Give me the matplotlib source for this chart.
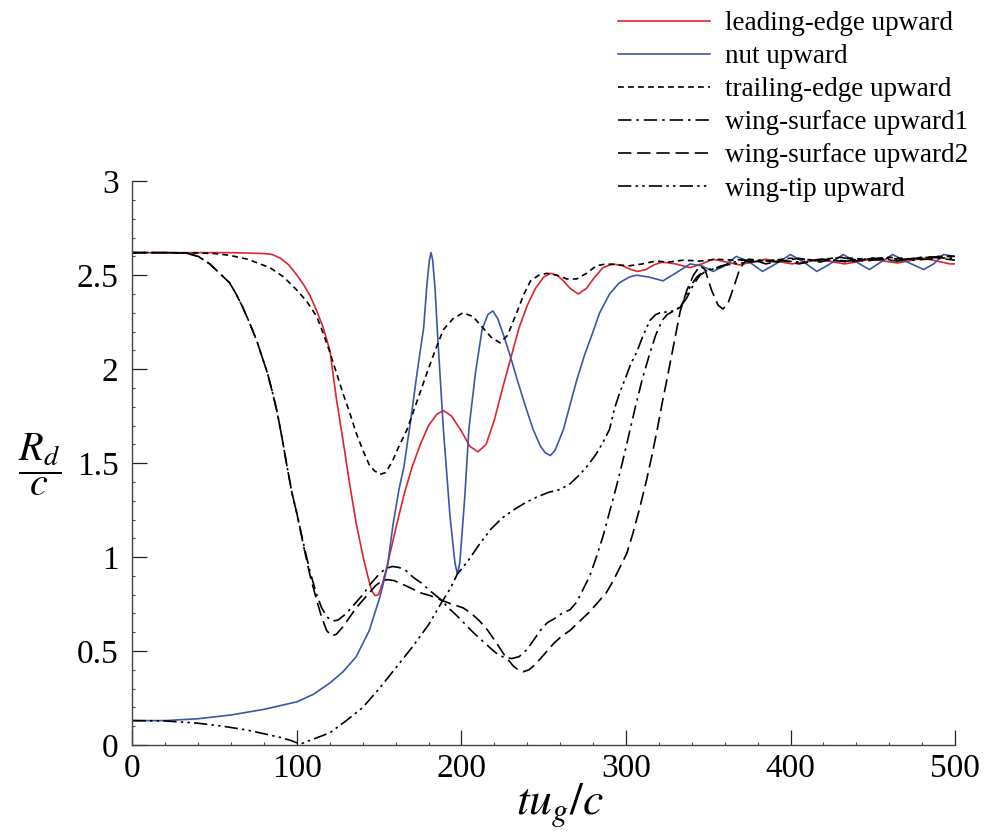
import matplotlib
matplotlib.use("Agg")
import matplotlib.pyplot as plt
from matplotlib.ticker import MultipleLocator

plt.rcParams['font.family'] = ['Liberation Serif', 'DejaVu Serif']
plt.rcParams['mathtext.fontset'] = 'stix'

labels = ["leading-edge upward", "nut upward", "trailing-edge upward",
          "wing-surface upward1", "wing-surface upward2", "wing-tip upward"]

le_x = [0, 20, 40, 60, 70, 80, 85, 90, 95, 100, 104, 108, 112, 116, 120, 124, 128, 132, 136, 140, 143, 145.5, 147.5,
        149.5, 152, 155, 160, 165, 170, 175, 180, 185, 189, 194, 200, 205, 210, 215, 220, 225, 230, 235, 240, 245,
        250, 254, 258, 262, 266, 271, 276, 281, 286, 292, 298, 303, 307, 312, 317, 322, 330, 339, 346, 353,
        361, 369, 377, 385, 393, 401, 409, 417, 425, 433, 441, 449, 457, 465, 473, 481, 489, 497, 500]
le_y = [2.62, 2.62, 2.62, 2.62, 2.618, 2.615, 2.61, 2.59, 2.555, 2.50, 2.45, 2.39, 2.31, 2.22, 2.10, 1.84, 1.62, 1.39, 1.18, 1.01, 0.90, 0.82, 0.795,
        0.80, 0.86, 0.96, 1.15, 1.33, 1.48, 1.60, 1.70, 1.76, 1.78, 1.75, 1.67, 1.59, 1.56, 1.60, 1.73, 1.90, 2.06, 2.22, 2.34, 2.43,
        2.49, 2.51, 2.50, 2.47, 2.43, 2.40, 2.43, 2.49, 2.54, 2.56, 2.55, 2.53, 2.52, 2.53, 2.555, 2.57, 2.56, 2.54, 2.56, 2.585,
        2.57, 2.555, 2.57, 2.585, 2.572, 2.56, 2.572, 2.585, 2.572, 2.56, 2.572, 2.585, 2.575, 2.565, 2.578, 2.59, 2.575, 2.56, 2.56]

nut_x = [0, 20, 40, 60, 80, 100, 110, 120, 128, 136, 144, 150.5, 155, 158.5, 162, 165, 169, 173, 177, 179, 180.5, 181.5,
         182.5, 184, 185.5, 189, 193, 196, 197.5, 199, 202, 204.5, 208.5, 212.5, 216, 219, 222, 226, 230, 234, 239, 243.5, 248, 251, 254,
         257, 262, 266, 270, 275, 280, 284, 290, 296, 302, 306.5, 314, 322.5, 330, 339, 346, 353, 360, 367, 375, 383,
         391, 400, 408, 416, 424, 432, 440, 448, 455, 462, 471, 481, 487, 493, 500]
nut_y = [0.13, 0.13, 0.14, 0.16, 0.19, 0.23, 0.27, 0.33, 0.39, 0.47, 0.61, 0.79, 0.95, 1.18, 1.36, 1.48, 1.72, 1.98, 2.22, 2.45, 2.58, 2.62,
         2.58, 2.42, 2.18, 1.68, 1.22, 0.97, 0.91, 0.97, 1.32, 1.68, 1.98, 2.21, 2.29, 2.31, 2.27, 2.17, 2.06, 1.94, 1.80, 1.68, 1.59, 1.555, 1.54,
         1.57, 1.68, 1.81, 1.94, 2.08, 2.20, 2.30, 2.40, 2.46, 2.49, 2.50, 2.49, 2.47, 2.51, 2.56, 2.55, 2.52, 2.55, 2.60, 2.57, 2.52,
         2.56, 2.61, 2.57, 2.52, 2.56, 2.61, 2.57, 2.53, 2.57, 2.61, 2.57, 2.53, 2.56, 2.61, 2.60]

te_x = [0, 20, 40, 50, 59, 70, 83.6, 92, 100, 106, 112, 116, 120, 124, 128, 132, 136, 140, 144, 147, 150.5, 154, 158,
        162, 167, 173, 179, 184, 189, 195, 201, 207, 213, 218, 223.5, 228, 234, 238, 242, 247, 252, 258, 264, 270, 276,
        282, 288, 295, 302, 310, 318, 326, 335, 345, 355, 365, 375, 385, 400, 415, 430, 445, 460, 475, 490, 500]
te_y = [2.62, 2.62, 2.618, 2.615, 2.606, 2.585, 2.54, 2.49, 2.42, 2.36, 2.28, 2.19, 2.09, 1.98, 1.87, 1.77, 1.66, 1.57, 1.49, 1.46, 1.44, 1.45, 1.51,
        1.59, 1.68, 1.83, 1.98, 2.10, 2.21, 2.27, 2.30, 2.28, 2.22, 2.17, 2.14, 2.18, 2.31, 2.40, 2.47, 2.50, 2.51, 2.50, 2.48, 2.48, 2.51,
        2.55, 2.56, 2.555, 2.55, 2.56, 2.575, 2.57, 2.58, 2.575, 2.585, 2.58, 2.585, 2.575, 2.59, 2.58, 2.595, 2.585, 2.595, 2.585, 2.60, 2.60]

ws1_x = [0, 20, 33, 40, 47, 53, 59, 63, 67, 71, 75.6, 79, 82, 85, 88, 91, 94, 97, 100, 104, 108, 112, 115, 118, 120, 122,
         125, 130, 135, 140, 145, 150, 154, 158, 162, 166, 171, 176, 181, 188, 192, 197, 202, 207, 212, 217, 221, 225, 230.5,
         235, 240, 244, 248, 252, 256, 261, 266, 270, 274, 278, 282, 286, 290, 294, 298, 302, 306, 310, 314, 318, 322, 325,
         329, 333, 337, 341, 345, 350, 356, 362, 370, 380, 392, 405, 418, 430, 445, 460, 475, 490, 500]
ws1_y = [2.62, 2.62, 2.617, 2.60, 2.56, 2.51, 2.46, 2.40, 2.33, 2.25, 2.15, 2.06, 1.98, 1.88, 1.77, 1.63, 1.48, 1.34, 1.23, 1.07, 0.92, 0.80, 0.73, 0.685, 0.668, 0.66,
         0.665, 0.70, 0.75, 0.80, 0.86, 0.91, 0.94, 0.95, 0.945, 0.93, 0.89, 0.86, 0.82, 0.77, 0.73, 0.69, 0.645, 0.60, 0.56, 0.52, 0.49, 0.47, 0.46,
         0.47, 0.51, 0.56, 0.61, 0.65, 0.67, 0.70, 0.72, 0.76, 0.83, 0.90, 1.00, 1.11, 1.24, 1.37, 1.51, 1.66, 1.81, 1.95, 2.07, 2.18, 2.26, 2.29,
         2.31, 2.33, 2.38, 2.45, 2.50, 2.53, 2.54, 2.56, 2.58, 2.58, 2.57, 2.59, 2.57, 2.595, 2.575, 2.59, 2.58, 2.59, 2.58]

ws2_x = [0, 20, 33, 40, 47, 53, 59, 63, 67, 71, 75.6, 79, 82, 85, 88, 91, 94, 97, 100, 104, 108, 112, 115, 118, 121, 124,
         128, 132, 136, 140, 144, 148, 152, 155, 159, 163, 168, 175, 181, 188, 194, 201, 206, 211, 216, 221.5, 226, 231.5,
         234.5, 237.5, 241, 245, 250, 256, 261, 266, 272, 278, 283, 288, 292, 296, 300.5, 304, 308, 312.5, 316, 319, 322,
         325, 329, 333, 337, 341, 345, 348, 352, 356, 359, 362, 366, 369, 372, 378, 385, 395, 405, 420, 435, 450, 465, 480, 495, 500]
ws2_y = [2.62, 2.62, 2.617, 2.60, 2.56, 2.51, 2.46, 2.40, 2.33, 2.25, 2.15, 2.06, 1.98, 1.88, 1.77, 1.63, 1.48, 1.34, 1.23, 1.06, 0.90, 0.77, 0.68, 0.61, 0.58, 0.59,
         0.63, 0.68, 0.73, 0.77, 0.81, 0.85, 0.875, 0.88, 0.875, 0.86, 0.84, 0.81, 0.795, 0.77, 0.75, 0.73, 0.70, 0.66, 0.61, 0.54, 0.48, 0.42,
         0.40, 0.39, 0.40, 0.43, 0.48, 0.54, 0.58, 0.61, 0.66, 0.71, 0.76, 0.81, 0.87, 0.94, 1.02, 1.12, 1.25, 1.41, 1.55, 1.68, 1.82,
         1.95, 2.13, 2.31, 2.42, 2.50, 2.55, 2.53, 2.42, 2.34, 2.32, 2.35, 2.45, 2.53, 2.57, 2.58, 2.56, 2.58, 2.56, 2.585, 2.57, 2.59, 2.575, 2.595, 2.60, 2.60]

wt_x = [0, 20, 39, 55, 69.6, 80, 90, 96, 102, 108, 114, 120, 130, 140, 150, 160, 170, 180, 188, 193, 197.5, 204, 211, 218,
        225, 231.5, 239, 246, 253, 260, 266, 272, 277, 282, 286, 290, 293, 296, 300, 303, 306.5, 310, 314.6, 318, 320.7,
        325, 329, 333, 336, 339, 343, 347, 352, 358, 365, 375, 390, 405, 420, 435, 450, 465, 480, 500]
wt_y = [0.13, 0.128, 0.117, 0.10, 0.08, 0.06, 0.04, 0.025, 0.005, 0.025, 0.045, 0.065, 0.13, 0.20, 0.30, 0.41, 0.52, 0.64, 0.76, 0.83, 0.91, 0.98, 1.07, 1.15,
        1.21, 1.25, 1.29, 1.32, 1.345, 1.36, 1.39, 1.44, 1.49, 1.55, 1.61, 1.68, 1.79, 1.87, 1.96, 2.03, 2.09, 2.17, 2.26, 2.29, 2.30,
        2.305, 2.31, 2.33, 2.38, 2.44, 2.49, 2.52, 2.53, 2.55, 2.56, 2.57, 2.58, 2.57, 2.585, 2.575, 2.59, 2.58, 2.595, 2.59]

xticks = [0, 100, 200, 300, 400, 500]
yticks = [0, 0.5, 1, 1.5, 2, 2.5, 3]
ytick_labels = ["0", "0.5", "1", "1.5", "2", "2.5", "3"]

fig = plt.figure(figsize=(9.87, 8.39), dpi=100)
ax = fig.add_axes([0.1342, 0.112, 0.8334, 0.672])

lw = 1.2
ax.plot(le_x, le_y, color='#e0242c', lw=lw, label=labels[0])
ax.plot(nut_x, nut_y, color='#3a56a8', lw=lw, label=labels[1])
ax.plot(te_x, te_y, color='black', lw=lw, dashes=(3.5, 2.5), label=labels[2])
ax.plot(ws1_x, ws1_y, color='black', lw=lw, dashes=(8, 3, 1.5, 3), label=labels[3])
ax.plot(ws2_x, ws2_y, color='black', lw=lw, dashes=(8, 3.5), label=labels[4])
ax.plot(wt_x, wt_y, color='black', lw=lw, dashes=(8, 2.5, 1.5, 2.5, 1.5, 2.5), label=labels[5])

ax.set_xlim(0, 500)
ax.set_ylim(0, 3)
ax.set_xticks(xticks)
ax.set_yticks(yticks)
ax.set_yticklabels(ytick_labels)
ax.xaxis.set_minor_locator(MultipleLocator(20))
ax.yaxis.set_minor_locator(MultipleLocator(0.1))
for s in ['top', 'right']:
    ax.spines[s].set_visible(False)
for s in ['left', 'bottom']:
    ax.spines[s].set_color('#444444')
    ax.spines[s].set_linewidth(1.0)
ax.tick_params(which='major', direction='in', length=10.5, width=0.9, color='#222222',
               labelsize=24)
ax.tick_params(which='minor', direction='in', length=2.5, width=0.8, color='#444444')
ax.tick_params(axis='x', which='major', pad=6)
ax.tick_params(axis='y', which='major', pad=10)

fig.text(40 / 987, 1 - 465 / 839, r'$\dfrac{R_d}{c}$', fontsize=29, ha='center', va='center')
fig.text(560 / 987, 1 - 806 / 839, r'$tu_g/c$', fontsize=33, ha='center', va='center')

leg = fig.legend(loc='upper left', bbox_to_anchor=(618 / 987, 1 - 11 / 839), frameon=False,
                 fontsize=19.5, handlelength=3.4, handletextpad=0.55, labelspacing=0.3,
                 borderpad=0, borderaxespad=0)

fig.savefig('out.png', dpi=100)
